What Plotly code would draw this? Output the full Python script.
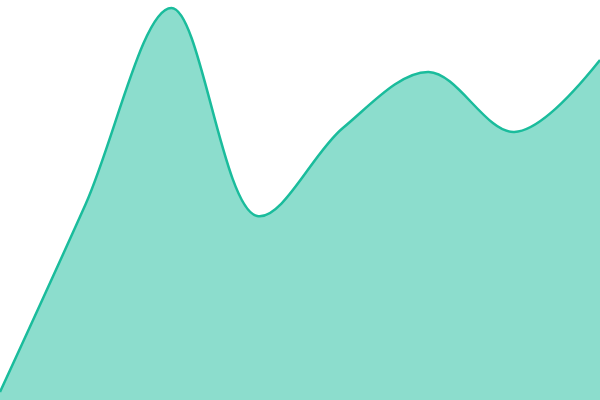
import plotly.graph_objects as go

# area chart, 8 evenly spaced points, no axes
x_vals = [0, 1, 2, 3, 4, 5, 6, 7]
y_vals = [2, 49, 98, 46, 68, 82, 67, 85]

fig = go.Figure()
fig.add_trace(go.Scatter(
    x=x_vals, y=y_vals,
    mode='lines',
    line=dict(color='#1abc9c', width=2.5, shape='spline', smoothing=1),
    fill='tozeroy',
    fillcolor='rgba(26,188,156,0.5)',
    hoverinfo='skip',
))
fig.update_layout(
    width=600, height=400,
    margin=dict(l=0, r=0, t=0, b=0),
    paper_bgcolor='white', plot_bgcolor='white',
    showlegend=False,
    xaxis=dict(visible=False, range=[0, 7]),
    yaxis=dict(visible=False, range=[0, 100]),
)
# drop the browser's default body margin so the chart sits flush
fig.write_html("out.html", config={'displayModeBar': False},
               post_script="document.body.style.margin='0';")
